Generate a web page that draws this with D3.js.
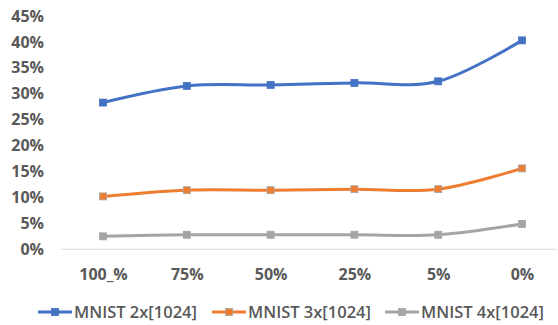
<!DOCTYPE html>
<html>
<head>
<meta charset="utf-8">
<script src="https://cdn.jsdelivr.net/npm/d3@7"></script>
<style>
  html, body { margin: 0; padding: 0; background: #fff; }
  svg { display: block; }
  text { font-family: "Open Sans", "Liberation Sans", sans-serif; fill: #595959; }
</style>
</head>
<body>
<svg id="chart" width="558" height="325"></svg>
<script>
// Pruning levels on the x axis
const categories = ["100_%", "75%", "50%", "25%", "5%", "0%"];

// Error rate (%) per network
const seriesNames = ["MNIST 2x[1024]", "MNIST 3x[1024]", "MNIST 4x[1024]"];
const mnist2x = [28.3, 31.5, 31.7, 32.1, 32.4, 40.3];
const mnist3x = [10.2, 11.4, 11.4, 11.6, 11.6, 15.6];
const mnist4x = [2.5, 2.8, 2.8, 2.8, 2.8, 4.9];

const yTicks = [0, 5, 10, 15, 20, 25, 30, 35, 40, 45];
const colors = ["#4472C4", "#ED7D31", "#A5A5A5"];
const markerStroke = ["#4472C4", "#A5A5A5", "#A5A5A5"];

const svg = d3.select("#chart");

const x = d3.scalePoint().domain(categories).range([103, 522]);
const y = d3.scaleLinear().domain([0, 45]).range([249.3, 16]);

// Y axis labels (no axis line)
const yAxis = d3.axisLeft(y).tickValues(yTicks).tickSize(0).tickPadding(0)
  .tickFormat(d => d + "%");
svg.append("g").attr("transform", "translate(44,0)").call(yAxis)
  .call(g => g.select(".domain").remove())
  .selectAll("text")
  .attr("font-size", 16).attr("font-weight", "bold")
  .attr("font-family", "'Open Sans', sans-serif").attr("fill", "#595959");

// X axis baseline and labels
const xAxis = d3.axisBottom(x).tickSize(0).tickPadding(19);
svg.append("g").attr("transform", `translate(0,${y(0)})`).call(xAxis)
  .call(g => g.select(".domain").attr("d", "M61,0H556").attr("stroke", "#D9D9D9").attr("stroke-width", 1))
  .selectAll("text")
  .attr("font-size", 16).attr("font-weight", "bold")
  .attr("font-family", "'Open Sans', sans-serif").attr("fill", "#595959");

const series = [mnist2x, mnist3x, mnist4x];

const line = d3.line()
  .x((d, i) => x(categories[i]))
  .y(d => y(d))
  .curve(d3.curveCardinal.tension(0));

// Draw from the back (gray) to the front (blue)
[2, 1, 0].forEach(s => {
  const g = svg.append("g");
  g.append("path").datum(series[s])
    .attr("d", line).attr("fill", "none")
    .attr("stroke", colors[s]).attr("stroke-width", 3)
    .attr("stroke-linecap", "round");
  g.selectAll("rect").data(series[s]).join("rect")
    .attr("x", (d, i) => x(categories[i]) - 3.5)
    .attr("y", d => y(d) - 3.5)
    .attr("width", 7).attr("height", 7)
    .attr("fill", colors[s])
    .attr("stroke", markerStroke[s]).attr("stroke-width", 0.8);
});

// Legend
const legendX = [38, 212, 385];
const legend = svg.append("g").attr("transform", "translate(0,312)");
seriesNames.forEach((name, i) => {
  const g = legend.append("g").attr("transform", `translate(${legendX[i]},0)`);
  g.append("line").attr("x1", 0).attr("x2", 34).attr("y1", 0).attr("y2", 0)
    .attr("stroke", colors[i]).attr("stroke-width", 3);
  g.append("rect").attr("x", 13.5).attr("y", -3.5).attr("width", 7).attr("height", 7)
    .attr("fill", colors[i]).attr("stroke", markerStroke[i]).attr("stroke-width", 0.8);
  g.append("text").attr("x", 36).attr("y", 0).attr("dy", "0.35em")
    .attr("font-size", 16.5).attr("font-weight", 600)
    .text(name);
});
</script>
</body>
</html>
